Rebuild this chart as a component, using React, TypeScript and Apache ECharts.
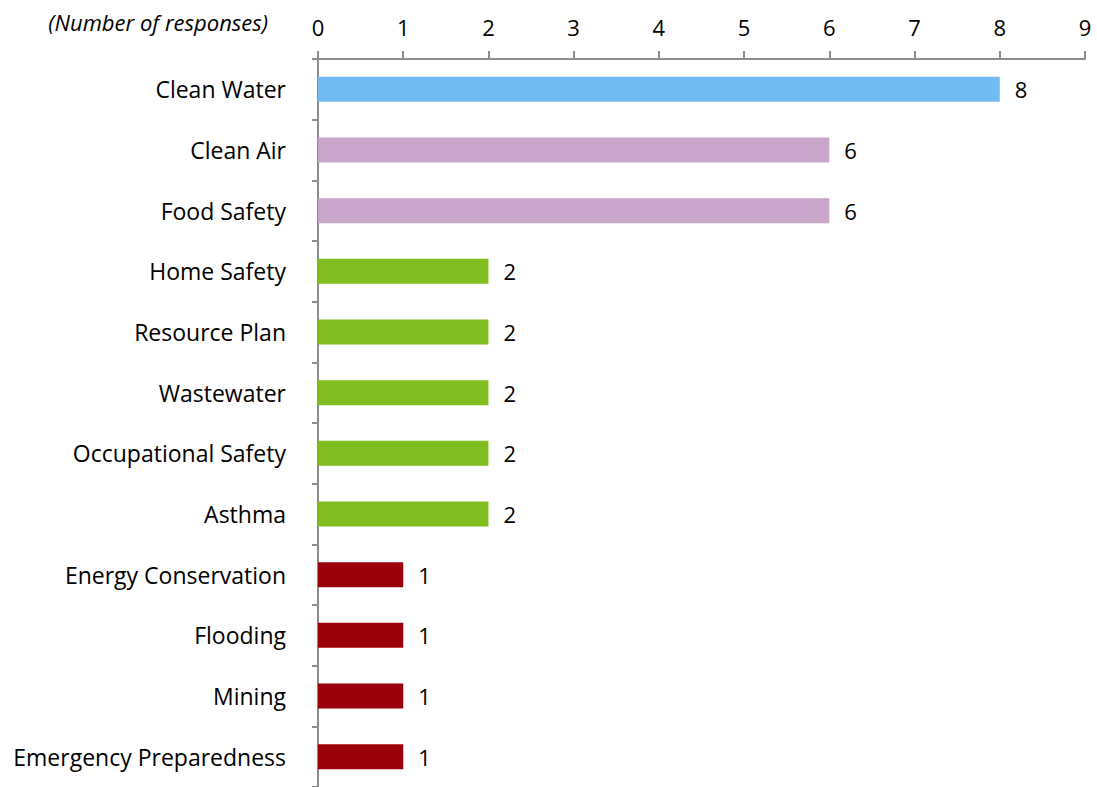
import React, { useEffect, useRef } from "react";
import * as echarts from "echarts";

const categories = [
  "Clean Water",
  "Clean Air",
  "Food Safety",
  "Home Safety",
  "Resource Plan",
  "Wastewater",
  "Occupational Safety",
  "Asthma",
  "Energy Conservation",
  "Flooding",
  "Mining",
  "Emergency Preparedness",
];
const values = [8, 6, 6, 2, 2, 2, 2, 2, 1, 1, 1, 1];
const barColors = [
  "#71BBF5",
  "#C9A5C9",
  "#C9A5C9",
  "#80BD1E",
  "#80BD1E",
  "#80BD1E",
  "#80BD1E",
  "#80BD1E",
  "#9A0009",
  "#9A0009",
  "#9A0009",
  "#9A0009",
];
const axisTitle = "(Number of responses)";

export default function App() {
  const ref = useRef<HTMLDivElement>(null);
  useEffect(() => {
    if (!ref.current) return;
    const chart = echarts.init(ref.current, null, { renderer: "svg" });
    const font = "'Open Sans', sans-serif";
    chart.setOption({
      animation: false,
      textStyle: { fontFamily: font },
      grid: { left: 318, top: 59, right: 12, height: 730, containLabel: false },
      graphic: [
        {
          type: "text",
          right: 1097 - 268,
          top: 11,
          style: {
            text: axisTitle,
            font: `italic 22px ${font}`,
            fill: "#000",
          },
        },
      ],
      xAxis: {
        type: "value",
        position: "top",
        min: 0,
        max: 9,
        interval: 1,
        axisLine: { show: true, lineStyle: { color: "#8C8C8C", width: 2 } },
        axisTick: { show: true, length: 8, lineStyle: { color: "#8C8C8C", width: 2 } },
        splitLine: { show: false },
        axisLabel: { color: "#000", fontSize: 22, margin: 21, fontFamily: font },
      },
      yAxis: {
        type: "category",
        data: categories,
        inverse: true,
        axisLine: { show: true, lineStyle: { color: "#8C8C8C", width: 2 } },
        axisTick: { show: true, length: 6, lineStyle: { color: "#8C8C8C", width: 2 } },
        axisLabel: { color: "#000", fontSize: 23, margin: 32, fontFamily: font },
      },
      series: [
        {
          type: "bar",
          barWidth: 25,
          data: values.map((v, i) => ({ value: v, itemStyle: { color: barColors[i] } })),
          label: {
            show: true,
            position: "right",
            distance: 15,
            color: "#000",
            fontSize: 22,
            fontFamily: font,
          },
        },
      ],
    });
    return () => chart.dispose();
  }, []);
  return (
    <div
      ref={ref}
      style={{ position: "fixed", left: 0, top: 0, width: 1097, height: 787, background: "#fff" }}
    />
  );
}
